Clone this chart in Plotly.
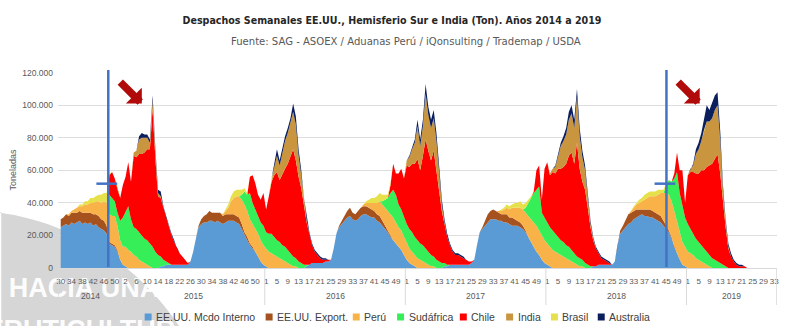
import numpy as np
import plotly.graph_objects as go

# ---------------- categories ----------------
YEARS = [2014, 2015, 2016, 2017, 2018, 2019]
FIRST_WEEK = [30, 1, 1, 1, 1, 1]
LAST_WEEK = [52, 53, 52, 52, 52, 33]

WEEKS = []
YEAR_OF = []
for yr, a, b in zip(YEARS, FIRST_WEEK, LAST_WEEK):
    for w in range(a, b + 1):
        WEEKS.append(w)
        YEAR_OF.append(yr)

# ---------------- series (thousand tons, weekly) ----------------
MCDO_INTERNO = [
    25, 26, 27, 26, 28, 27, 28, 29, 27, 28, 27, 28, 26, 27, 25, 24, 23, 21,
    15, 14, 13, 10, 5, 2, 1, 0, 0,
    0, 0, 0, 0, 0, 0, 0, 0, 0, 0,
    1, 1, 2, 2, 2, 2, 2, 2, 2, 2, 2,
    4, 10, 18, 25,
    27, 28, 28, 29, 29, 28, 29, 28, 27, 28, 29,
    29, 29, 28, 27, 24, 20, 17, 14, 12, 10, 7, 4, 2, 1, 0,
    0, 0, 0, 0, 0, 0, 0, 0, 0, 0, 0, 0, 0,
    1, 2, 3, 3, 3, 3, 3, 4, 4, 5,
    12, 21, 25, 27, 29, 31, 32, 30, 29, 30, 32,
    33, 33, 32, 31, 31, 29, 28, 26, 24, 22, 19, 17, 15, 13, 11, 8, 5, 3, 2, 1,
    0, 0, 0, 0, 0, 0, 0, 0, 0, 0,
    1, 1, 2, 2, 2, 2, 2, 2, 2, 2, 3,
    5, 14, 22, 24, 26, 28, 30, 30, 30,
    29, 29, 28, 28, 27, 26, 26, 26, 25, 24,
    22, 19, 16, 13, 10, 8, 5, 3, 2, 1, 0,
    0, 0, 0, 0, 0, 0, 0, 0, 0, 0, 0, 0, 0, 0,
    1, 1, 2, 2, 2, 2, 2, 2, 4,
    14, 21, 23, 25, 27, 28,
    30, 31, 32, 33, 32, 32, 31, 31, 30, 29, 28,
    26, 24, 22, 18, 13, 9, 5, 2, 1,
    0, 0, 0, 0, 0, 0, 0, 0, 0, 0, 0, 0, 0, 0, 0, 0, 0, 0, 0, 0, 0, 0, 0, 0, 0, 0, 0, 0, 0, 0, 0, 0, 0,
]
EXPORT = [
    5, 5, 6, 6, 6, 7, 6, 6, 7, 6, 7, 6, 7, 6, 7, 6, 6, 5,
    1, 1, 1, 1,
    0, 0, 0, 0, 0, 0, 0, 0, 0, 0, 0, 0, 0, 0, 0, 0, 0, 0, 0, 0, 0, 0, 0, 0, 0, 0, 0, 0, 0,
    1,
    3, 4, 5, 6, 5, 6, 5, 6, 5, 5, 4,
    4, 4, 4, 4, 3, 2, 2,
    1, 1,
    0, 0, 0, 0, 0, 0, 0, 0, 0, 0, 0, 0, 0, 0, 0, 0, 0, 0, 0, 0, 0, 0, 0, 0, 0, 0, 0, 0, 0, 0, 0,
    1, 2, 3, 4, 5, 4, 4, 5, 5,
    5, 5, 5, 5, 4, 4, 4, 3, 2, 1, 1,
    0, 0, 0, 0, 0, 0, 0, 0, 0, 0, 0, 0, 0, 0, 0, 0, 0, 0, 0, 0, 0, 0, 0, 0, 0, 0, 0, 0, 0, 0, 0, 0, 0,
    1, 3, 5, 5, 6, 5,
    5, 4, 5, 5, 4, 5, 4, 3, 3, 2, 1,
    0, 0, 0, 0, 0, 0, 0, 0, 0, 0, 0, 0, 0, 0, 0, 0, 0, 0, 0, 0, 0, 0, 0, 0, 0, 0, 0, 0, 0, 0, 0, 0, 0, 0,
    2, 3, 5, 6, 6,
    5, 5, 4, 3, 4, 4, 5, 4, 4, 4, 4, 3, 2, 1, 1,
    0, 0, 0, 0, 0, 0, 0, 0, 0, 0, 0, 0, 0, 0, 0, 0, 0, 0, 0, 0, 0, 0, 0, 0, 0, 0, 0, 0, 0, 0, 0, 0, 0, 0, 0, 0, 0, 0,
]
PERU = [
    0, 0, 0, 1, 1, 2, 3, 3, 4, 5, 5, 6, 7, 8, 9, 10, 12, 14,
    17, 17, 18, 15, 12, 11, 12, 11, 10, 8, 7, 5, 4, 3, 2, 1,
    0, 0, 0, 0, 0, 0, 0, 0, 0, 0, 0, 0, 0, 0, 0, 0, 0, 0, 0, 0, 0, 0, 0, 0, 0, 0,
    1, 2, 4,
    8, 10, 12, 13, 15, 17, 16, 15, 14, 14, 14, 13, 12, 11, 10,
    9, 8, 7, 6, 5, 4, 3, 2, 1, 1,
    0, 0, 0, 0, 0, 0, 0, 0, 0, 0, 0, 0, 0, 0, 0, 0, 0, 0, 0, 0, 0, 0, 0, 0,
    1, 2, 3, 4, 5, 7, 9, 10, 11, 12, 13, 14, 13, 12, 12, 11, 10, 9, 8, 7,
    6, 5, 4, 3, 2, 1, 1,
    0, 0, 0, 0, 0, 0, 0, 0, 0, 0, 0, 0, 0, 0, 0, 0, 0, 0, 0, 0, 0, 0, 0,
    1, 2, 3, 4, 5, 6, 7, 8, 9, 10, 11,
    13, 14, 15, 16, 15, 15, 14, 13, 12, 11, 10, 9, 8, 7, 6, 5, 4, 3, 2, 1, 1, 0,
    0, 0, 0, 0, 0, 0, 0, 0, 0, 0, 0, 0, 0, 0, 0, 0,
    1, 2, 3, 4, 5, 6, 7, 8, 9, 10, 12, 14,
    17, 20, 22, 22, 22, 20, 17, 14, 12, 10, 9, 8, 6, 5, 4, 3, 2, 1,
    0, 0, 0, 0, 0, 0, 0, 0, 0, 0, 0, 0, 0, 0, 0, 0, 0, 0, 0, 0, 0, 0, 0, 0,
]
SUDAFRICA = [
    0, 0, 0, 0, 0, 0, 0, 0, 0, 0, 0, 0, 0, 0, 0, 0, 0, 0,
    12, 11, 9, 8, 12, 18, 22, 27, 20, 17, 17, 17, 16, 15, 15, 14, 13, 10, 8, 6, 4, 2, 1,
    0, 0, 0, 0, 0, 0, 0, 0, 0, 0, 0, 0, 0, 0, 0, 0, 0, 0, 0, 0, 0, 0, 0, 0, 0, 0,
    3, 8, 10, 16, 13, 12, 10, 11, 12, 10, 11, 12, 11, 10, 10, 9, 9, 8, 7, 6, 5, 4, 3, 2, 1,
    0, 0, 0, 0, 0, 0, 0, 0, 0, 0, 0, 0, 0, 0, 0, 0, 0, 0, 0, 0, 0, 0, 0, 0, 0, 0, 0,
    2, 5, 8, 13, 17, 17, 14, 13, 12, 12, 12, 12, 11, 11, 10, 10, 9, 8, 7, 6, 5,
    4, 3, 2, 1,
    0, 0, 0, 0, 0, 0, 0, 0, 0, 0, 0, 0, 0, 0, 0, 0, 0, 0, 0, 0, 0, 0, 0, 0, 0, 0, 0, 0,
    3, 8, 13, 18, 22, 27, 14, 14, 13, 12, 12, 11, 10, 9, 9, 8, 8, 7, 6, 5, 5, 4, 3, 2, 1,
    0, 0, 0, 0, 0, 0, 0, 0, 0, 0, 0, 0, 0, 0, 0, 0, 0, 0, 0, 0, 0, 0, 0, 0, 0, 0, 0,
    5, 9, 12, 20, 30, 24, 22, 18, 17, 15, 13, 12, 11, 10, 9, 8, 7, 6, 5, 4, 3, 2, 1,
    0, 0, 0, 0, 0, 0, 0, 0, 0, 0, 0, 0, 0, 0, 0, 0, 0, 0,
]
CHILE = [
    0, 0, 0, 0, 0, 0, 0, 0, 0, 0, 0, 0, 0, 0, 0, 0, 0, 0,
    12, 16, 14, 14, 14, 20, 21, 27, 23, 44, 44, 48, 50, 53, 56, 58, 85, 58, 36, 36, 32, 27, 23, 18, 14, 10, 7, 5, 3, 1,
    0, 0, 0, 0, 0, 0, 0, 0, 0, 0, 0, 0, 0, 0, 0, 0, 0, 0, 0, 0, 0, 0,
    10, 17, 16, 14, 14, 20, 14, 23, 32, 38, 42, 38, 44, 48, 53, 60, 66, 60, 52, 46, 36, 26, 19, 11, 7, 5, 3, 2, 1,
    1,
    0, 0, 0, 0, 0, 0, 0, 0, 0, 0, 0, 0, 0, 0, 0, 0, 0, 0, 0, 0, 0, 0,
    5, 16, 13, 19, 25, 24, 36, 38, 42, 45, 50, 45, 55, 67, 62, 58, 65, 55, 45, 32, 24, 17, 12, 8, 6, 6, 5, 4, 3, 2, 1,
    0, 0, 0, 0, 0, 0, 0, 0, 0, 0, 0, 0, 0, 0, 0, 0, 0, 0, 0, 0, 0, 0,
    1, 12, 13, 8, 30, 37, 32, 36, 37, 42, 44, 46, 50, 56, 60, 55, 70, 55, 48, 45, 35, 24, 16, 11, 7, 4, 3, 2, 1,
    0, 0, 0, 0, 0, 0, 0, 0, 0, 0, 0, 0, 0, 0, 0, 0, 0, 0, 0, 0, 0, 0, 0,
    3, 12, 14, 22, 9, 30, 35, 38, 40, 42, 46, 48, 52, 55, 58, 62, 66, 55, 38, 24, 12, 7, 4, 2, 1, 1, 1,
    0, 0, 0, 0, 0, 0, 0, 0, 0, 0, 0,
]
INDIA = [
    0, 0, 0, 0, 0, 0, 0, 0, 0, 0, 0, 0, 0, 0, 0, 0, 0, 0, 0, 0, 0, 0, 0, 0, 0, 0, 0,
    2, 4, 9, 10, 9, 7, 4, 5, 4, 2, 1, 0,
    0, 0, 0, 0, 0, 0, 0, 0, 0, 0, 0, 0, 0, 0, 0, 0, 0, 0, 0, 0, 0, 0, 0, 0, 0, 0, 0, 0, 0, 0, 0, 0, 0, 0, 0, 0, 0, 0, 0,
    2, 6, 10, 9, 13, 17, 19, 20, 23, 22, 13, 8, 3, 1,
    0, 0, 0, 0, 0, 0, 0, 0, 0, 0, 0, 0, 0, 0, 0, 0, 0, 0, 0, 0, 0, 0, 0, 0, 0, 0, 0, 0, 0, 0, 0, 0, 0, 0, 0, 0,
    3, 6, 9, 13, 20, 15, 18, 28, 22, 20, 20, 18, 10, 4, 1,
    0, 0, 0, 0, 0, 0, 0, 0, 0, 0, 0, 0, 0, 0, 0, 0, 0, 0, 0, 0, 0, 0, 0, 0, 0, 0, 0, 0, 0, 0, 0, 0, 0, 0, 0, 0, 0, 0,
    1, 2, 4, 8, 14, 16, 18, 22, 24, 22, 28, 20, 15, 12, 6, 2, 1,
    0, 0, 0, 0, 0, 0, 0, 0, 0, 0, 0, 0, 0, 0, 0, 0, 0, 0, 0, 0, 0, 0, 0, 0, 0, 0, 0, 0, 0, 0, 0, 0, 0, 0, 0,
    2, 4, 12, 15, 18, 25, 28, 27, 28, 30, 30, 20, 8, 3, 1,
    0, 0, 0, 0, 0, 0, 0, 0, 0, 0, 0, 0, 0, 0, 0, 0, 0,
]
BRASIL = [
    0, 0, 0, 0, 0, 0, 0,
    1, 1, 2, 2, 3, 3, 3, 4, 5, 5, 6,
    1,
    0, 0, 0, 0, 0, 0, 0, 0, 0, 0, 0, 0, 0, 0, 0, 0, 0, 0, 0, 0, 0, 0, 0, 0, 0, 0, 0, 0, 0, 0, 0, 0, 0, 0, 0, 0, 0, 0, 0, 0, 0, 0,
    1, 2, 3, 4, 4, 4, 3, 2, 1,
    0, 0, 0, 0, 0, 0, 0, 0, 0, 0, 0, 0, 0, 0, 0, 0, 0, 0, 0, 0, 0, 0, 0, 0, 0, 0, 0, 0, 0, 0, 0, 0, 0, 0, 0, 0, 0, 0, 0, 0, 0, 0, 0,
    1, 2, 3, 3, 4, 5, 4, 3, 2, 1,
    0, 0, 0, 0, 0, 0, 0, 0, 0, 0, 0, 0, 0, 0, 0, 0, 0, 0, 0, 0, 0, 0, 0, 0, 0, 0, 0, 0, 0, 0, 0, 0, 0, 0, 0, 0, 0, 0, 0, 0,
    1, 1, 2, 2, 2, 3, 3, 4, 3, 3, 2, 1,
    0, 0, 0, 0, 0, 0, 0, 0, 0, 0, 0, 0, 0, 0, 0, 0, 0, 0, 0, 0, 0, 0, 0, 0, 0, 0, 0, 0, 0, 0, 0, 0, 0, 0, 0, 0, 0,
    1, 1, 2, 2, 3, 3, 3, 3, 3, 3, 2, 2, 1,
    0, 0, 0, 0, 0, 0, 0, 0, 0, 0, 0, 0, 0, 0, 0, 0, 0, 0, 0, 0, 0, 0, 0, 0, 0, 0, 0, 0, 0, 0, 0, 0, 0, 0, 0, 0, 0, 0, 0, 0,
]
AUSTRALIA = [
    0, 0, 0, 0, 0, 0, 0, 0, 0, 0, 0, 0, 0, 0, 0, 0, 0, 0, 0, 0, 0, 0, 0, 0, 0, 0, 0, 0, 0,
    2, 3, 2, 2, 2, 3, 2, 2, 3, 1, 1, 0, 1, 1,
    0, 0, 0, 0, 0, 0, 0, 0, 0, 0, 0, 0, 0, 0, 0, 0, 0, 0, 0, 0, 0, 0, 0, 0, 0, 0, 0, 0, 0, 0, 0, 0, 0, 0, 0, 0,
    2, 4, 3, 3, 3, 3, 3, 5, 5, 4, 3, 2, 2, 1, 1, 1, 1, 1, 1, 1,
    0, 0, 0, 0, 0, 0, 0, 0, 0, 0, 0, 0, 0, 0, 0, 0, 0, 0, 0, 0, 0, 0, 0, 0, 0, 0, 0, 0, 0, 0,
    1, 1, 2, 4, 4, 4, 6, 5, 5, 5, 5, 4, 3, 2, 2, 1, 1, 1, 1, 1, 1,
    0, 0, 0, 0, 0, 0, 0, 0, 0, 0, 0, 0, 0, 0, 0, 0, 0, 0, 0, 0, 0, 0, 0, 0, 0, 0, 0, 0, 0, 0, 0, 0, 0,
    1, 2, 2, 3, 4, 5, 5, 5, 5, 5, 4, 3, 2, 2, 1, 1, 1, 1, 1, 1, 1,
    0, 0, 0, 0, 0, 0, 0, 0, 0, 0, 0, 0, 0, 0, 0, 0, 0, 0, 0, 0, 0, 0, 0, 0, 0, 0, 0, 0, 0, 0,
    1, 3, 4, 5, 7, 10, 7, 10, 9, 8, 6, 3, 2, 2, 2, 1, 1, 1, 1,
    0, 0, 0, 0, 0, 0, 0, 0, 0, 0, 0, 0,
]

NAMES = ["EE.UU. Mcdo Interno", "EE.UU. Export.", "Perú", "Sudáfrica", "Chile", "India", "Brasil", "Australia"]
SERIES = [MCDO_INTERNO, EXPORT, PERU, SUDAFRICA, CHILE, INDIA, BRASIL, AUSTRALIA]
COLORS = ["#5B9BD5", "#A5521E", "#F9B248", "#36EE58", "#FF0000", "#C9963F", "#E6E04A", "#0B1F5E"]

Y_TICKS = [0, 20, 40, 60, 80, 100, 120]
Y_TICKTEXT = ["0", "20.000", "40.000", "60.000", "80.000", "100.000", "120.000"]

# ---------------- geometry ----------------
W, H = 800, 326
L, R, T, B = 55, 23, 72, 58
PW, PH = W - L - R, H - T - B


def ppx(px):
    return (px - L) / PW


def ppy(py):
    return (H - B - py) / PH


n = len(WEEKS)
xpos = list(range(n))
font_ax = "Liberation Sans, Arial, sans-serif"
narrow = "Liberation Sans Narrow, DejaVu Sans Condensed, Roboto Condensed, Liberation Sans, sans-serif"

fig = go.Figure()

for name, vals, col in zip(NAMES, SERIES, COLORS):
    fig.add_trace(go.Scatter(
        x=xpos, y=vals, name=name, mode="lines", stackgroup="one",
        line=dict(width=0, color=col), fillcolor=col, showlegend=False,
        customdata=[f"{y} S{w}" for y, w in zip(YEAR_OF, WEEKS)],
        hovertemplate="%{customdata}<br>" + name + ": %{y}k<extra></extra>"))

shapes = []
# grey swoosh background bottom-left
ys = np.linspace(212, 332, 40)
xs = -40 + np.sqrt(np.clip(260 ** 2 - (470 - ys) ** 2, 0, None))
path = f"M {ppx(-2)},{ppy(212)} " + " ".join(f"L {ppx(a)},{ppy(b)}" for a, b in zip(xs, ys)) + f" L {ppx(-2)},{ppy(332)} Z"
shapes.append(dict(type="path", path=path, xref="paper", yref="paper", fillcolor="#D6D6D6",
                   line=dict(width=0), layer="below"))

# watermark text as labels of invisible shapes (kept under the axis labels)
for text, x0, x1, y0, y1 in [("HACIA UNA", 14, 148, 272, 298), ("FRUTICULTURA", -10, 186, 314, 340)]:
    shapes.append(dict(type="rect", xref="paper", yref="paper", x0=ppx(x0), x1=ppx(x1),
                       y0=ppy(y1), y1=ppy(y0), fillcolor="rgba(0,0,0,0)", line=dict(width=0),
                       layer="below",
                       label=dict(text=f"<b>{text}</b>", textposition="middle center", padding=0,
                                  font=dict(family="Liberation Sans, Arial", size=27,
                                            color="rgba(255,255,255,0.95)"))))

# year dividers and labels
annotations = []
starts = [0]
for yr in YEARS[:-1]:
    starts.append(starts[-1] + YEAR_OF.count(yr))
bounds = [-0.9] + [s - 0.5 for s in starts[1:]] + [n - 0.1]
for bx in bounds:
    shapes.append(dict(type="line", xref="x", yref="paper", x0=bx, x1=bx, y0=0, y1=ppy(305),
                       line=dict(color="#D9D9D9", width=1)))
for k, yr in enumerate(YEARS):
    s = starts[k]
    e = s + YEAR_OF.count(yr) - 1
    annotations.append(dict(x=(s + e) / 2, y=ppy(296), xref="x", yref="paper", text=str(yr),
                            showarrow=False, yanchor="middle",
                            font=dict(family=font_ax, size=8.5, color="#595959")))

# blue vertical markers with horizontal ticks
for xm in [17.6, 224.1]:
    shapes.append(dict(type="line", xref="x", yref="paper", x0=xm, x1=xm, y0=ppy(267), y1=ppy(70),
                       line=dict(color="#4472C4", width=2.5)))
    shapes.append(dict(type="line", xref="x", yref="y", x0=xm - 4.4, x1=xm + 3.3, y0=51.8, y1=51.8,
                       line=dict(color="#4472C4", width=2.5)))

# red arrows
for xt in [30.0, 236.4]:
    annotations.append(dict(x=xt, y=101, xref="x", yref="y", ax=-23, ay=-23, showarrow=True,
                            arrowhead=1, arrowsize=0.5, arrowwidth=7.5, arrowcolor="#B00A0A", text=""))

# manual legend
LEG_X = [145.5, 267, 354.5, 399, 462, 508.5, 553.5, 600.5]
for cx, name, col in zip(LEG_X, NAMES, COLORS):
    shapes.append(dict(type="rect", xref="paper", yref="paper", x0=ppx(cx - 3.5), x1=ppx(cx + 3.5),
                       y0=ppy(320.5), y1=ppy(313.5), fillcolor=col, line=dict(width=0)))
    annotations.append(dict(x=ppx(cx + 6), y=ppy(317), xref="paper", yref="paper", text=name,
                            showarrow=False, xanchor="left", yanchor="middle",
                            font=dict(family=font_ax, size=10.5, color="#404040")))

# subtitle
annotations.append(dict(x=ppx(404), y=ppy(42), xref="paper", yref="paper", yanchor="middle",
                        text="Fuente: SAG - ASOEX / Aduanas Perú / iQonsulting / Trademap / USDA",
                        showarrow=False, font=dict(family=narrow, size=11.2, color="#595959")))

fig.update_layout(
    width=W, height=H, autosize=False,
    margin=dict(l=L, r=R, t=T, b=B, pad=0),
    paper_bgcolor="white", plot_bgcolor="rgba(0,0,0,0)",
    title=dict(text="Despachos Semanales EE.UU., Hemisferio Sur e India (Ton). Años 2014 a 2019",
               x=392 / W, xanchor="center", y=1 - 20 / H, yanchor="middle", yref="container",
               font=dict(family=narrow, size=10.6, color="#262626", weight="bold")),
    showlegend=False,
    xaxis=dict(range=[-1, n], tickmode="array", tickvals=xpos[::4], ticktext=[str(w) for w in WEEKS[::4]],
               tickangle=0, tickfont=dict(family=font_ax, size=8, color="#595959"),
               showgrid=False, zeroline=False, showline=True, linecolor="#D9D9D9", linewidth=1,
               ticks="", ticklabelstandoff=5),
    yaxis=dict(range=[0, 120.4], tickmode="array", tickvals=Y_TICKS, ticktext=Y_TICKTEXT,
               tickfont=dict(family=font_ax, size=8.5, color="#595959"),
               showgrid=True, gridcolor="#DEDEDE", gridwidth=1, zeroline=False, showline=False,
               ticks="", ticklabelstandoff=4,
               title=dict(text="Toneladas", standoff=4, font=dict(family=font_ax, size=9, color="#595959"))),
    shapes=shapes, annotations=annotations,
    hovermode="x",
)

fig.write_html("out.html")
